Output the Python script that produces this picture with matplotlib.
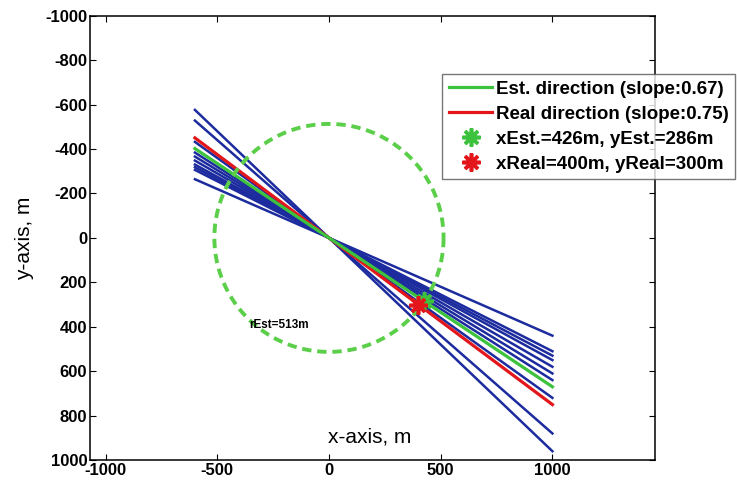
import numpy as np
import matplotlib.pyplot as plt

plt.rcParams['font.family'] = ['Liberation Sans', 'DejaVu Sans']
plt.rcParams['axes.unicode_minus'] = False

# slopes of the individual direction estimates (blue)
blue_slopes = [0.96, 0.88, 0.72, 0.64, 0.61, 0.58, 0.55, 0.53, 0.51, 0.44]
est_slope = 0.67
real_slope = 0.75
x_start, x_end = -600, 1000
r_est = 513
est_pos = (426, 286)
real_pos = (400, 300)

fig = plt.figure(figsize=(7.37, 4.9), dpi=100)
ax = fig.add_axes([0.122, 0.061, 0.767, 0.907])

xs = np.array([x_start, x_end])
for s in blue_slopes:
    ax.plot(xs, s * xs, color='#1c2b9e', lw=1.8)
ax.plot(xs, real_slope * xs, color='#e3161b', lw=2.3, label='Real direction (slope:0.75)')
ax.plot(xs, est_slope * xs, color='#3cc23c', lw=2.3, label='Est. direction (slope:0.67)')

t = np.linspace(0, 2 * np.pi, 400)
ax.plot(r_est * np.cos(t), r_est * np.sin(t), color='#5ccf4a', lw=2.8, ls=(0, (2.4, 1.5)))

ax.plot(*est_pos, ls='none', marker=(8, 2, 0), ms=13, mew=2.6, color='#3cc23c',
        label='xEst.=426m, yEst.=286m')
ax.plot(*real_pos, ls='none', marker=(8, 2, 0), ms=13, mew=2.6, color='#e3161b',
        label='xReal=400m, yReal=300m')

ax.text(-358, 392, 'rEst=513m', fontsize=8.5, fontweight='bold', va='center')
ax.text(180, 898, 'x-axis, m', fontsize=15, ha='center', va='center')

ax.set_xlim(-1070, 1460)
ax.set_ylim(1000, -1000)
ax.set_xticks([-1000, -500, 0, 500, 1000])
ax.set_yticks(np.arange(-1000, 1001, 200))
ax.tick_params(direction='in', top=True, right=True, length=4, labelsize=12, pad=2)
for lab in ax.get_xticklabels() + ax.get_yticklabels():
    lab.set_fontweight('bold')
ax.set_ylabel('y-axis, m', fontsize=15, labelpad=8)
for sp in ax.spines.values():
    sp.set_linewidth(1.1)

h, l = ax.get_legend_handles_labels()
order = [1, 0, 2, 3]
leg = fig.legend([h[i] for i in order], [l[i] for i in order],
                 loc='upper right', bbox_to_anchor=(1.0, 0.853),
                 fontsize=13.5, frameon=True, fancybox=False, edgecolor='#555555',
                 handlelength=2.3, handletextpad=0.2, borderpad=0.35, labelspacing=0.42,
                 borderaxespad=0.1)
leg.get_frame().set_linewidth(1.0)
for txt in leg.get_texts():
    txt.set_fontweight('bold')

fig.savefig('out.png', dpi=100)
